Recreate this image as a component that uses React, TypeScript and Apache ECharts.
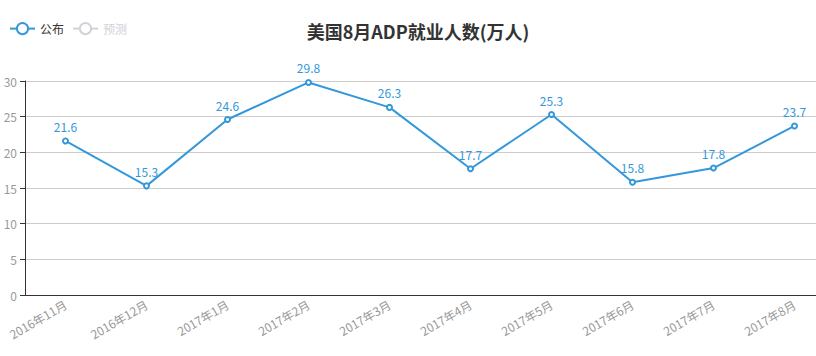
import React, { useEffect, useRef } from "react";
import * as echarts from "echarts";

const categories = ["2016年11月", "2016年12月", "2017年1月", "2017年2月", "2017年3月", "2017年4月", "2017年5月", "2017年6月", "2017年7月", "2017年8月"];
const published = [21.6, 15.3, 24.6, 29.8, 26.3, 17.7, 25.3, 15.8, 17.8, 23.7];
const forecast: (number | null)[] = [];

export default function App() {
  const ref = useRef<HTMLDivElement>(null);
  useEffect(() => {
    const chart = echarts.init(ref.current!, undefined, { renderer: "svg" });
    const font = '"Noto Sans CJK SC", "Noto Sans", sans-serif';
    chart.setOption({
      animation: false,
      textStyle: { fontFamily: font },
      color: ["#3398db", "#bbbbbb"],
      title: {
        text: "美国8月ADP就业人数(万人)",
        left: "center",
        top: 17,
        textStyle: { fontSize: 18, fontWeight: "bold", color: "#333", fontFamily: font },
      },
      legend: {
        left: 4,
        top: 17,
        data: ["公布", "预测"],
        selected: { 公布: true, 预测: false },
        textStyle: { fontSize: 12, color: "#333", fontFamily: font },
      },
      grid: { left: 25, right: 1, top: 81, bottom: 61 },
      xAxis: {
        type: "category",
        data: categories,
        axisLine: { lineStyle: { color: "#333" } },
        axisTick: { lineStyle: { color: "#333" } },
        axisLabel: { rotate: 30, color: "#999", fontSize: 12, fontFamily: font, interval: 0 },
      },
      yAxis: {
        type: "value",
        min: 0,
        max: 30,
        interval: 5,
        axisLine: { show: true, lineStyle: { color: "#333" } },
        axisTick: { show: true, lineStyle: { color: "#333" } },
        axisLabel: { color: "#999", fontSize: 12, fontFamily: font },
        splitLine: { lineStyle: { color: "#ccc" } },
      },
      series: [
        {
          name: "公布",
          type: "line",
          data: published,
          symbol: "emptyCircle",
          symbolSize: 5,
          lineStyle: { width: 2 },
          label: { show: true, position: "top", color: "#3398db", fontSize: 12, fontFamily: font },
        },
        {
          name: "预测",
          type: "line",
          data: forecast,
          symbol: "emptyCircle",
        },
      ],
    });
    return () => chart.dispose();
  }, []);
  return <div ref={ref} style={{ position: "absolute", left: 0, top: 0, width: 836, height: 356 }} />;
}
